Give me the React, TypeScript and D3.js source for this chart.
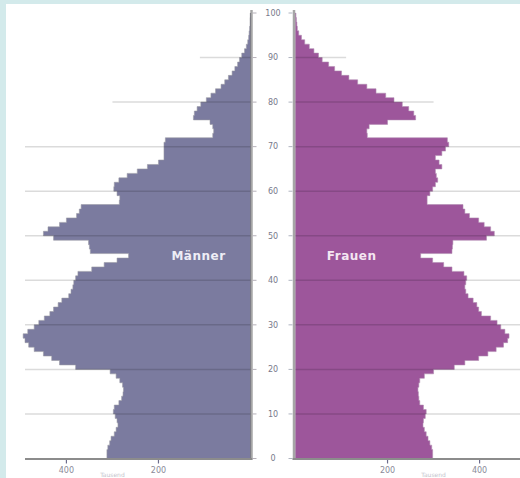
import React from "react";
import * as d3 from "d3";

const W = 520;
const H = 478;

// Population by single year of age (0..99)
const ageTicks = [0, 10, 20, 30, 40, 50, 60, 70, 80, 90, 100];
const valueTicks = [200, 400];
const men = [
  312, 312, 310, 306, 303, 296, 292, 288, 290, 294,
  298, 296, 286, 280, 277, 276, 278, 284, 292, 305,
  380, 415, 432, 450, 470, 482, 490, 494, 484, 470,
  460, 448, 436, 428, 418, 410, 395, 390, 386, 384,
  380, 375, 345, 318, 290, 265, 348, 350, 352, 428,
  450, 440, 415, 400, 378, 372, 368, 285, 284, 290,
  297, 296, 286, 268, 246, 224, 200, 188, 188, 188,
  188, 185, 82, 80, 82, 88, 124, 122, 116, 108,
  96, 86, 76, 64, 56, 48, 40, 34, 28, 24,
  19, 13, 9, 6, 4, 3, 2, 1, 1, 0.5,
];
const women = [
  298, 298, 296, 292, 288, 284, 280, 277, 278, 282,
  284, 278, 270, 268, 267, 266, 268, 270, 280, 300,
  345, 368, 398, 418, 436, 452, 461, 464, 455, 446,
  438, 424, 404, 398, 394, 386, 375, 370, 368, 370,
  372, 366, 340, 322, 298, 272, 340, 341, 342, 415,
  432, 424, 410, 398, 378, 368, 364, 286, 286, 292,
  298, 304, 309, 306, 304, 318, 312, 304, 318, 326,
  333, 330, 156, 155, 160, 200, 261, 257, 246, 232,
  214, 196, 175, 155, 135, 116, 100, 85, 72, 58,
  50, 40, 30, 20, 13, 7, 4, 3, 2, 1,
];
// extent of each decade gridline (in value units), ages 10..100
const gridAges = [10, 20, 30, 40, 50, 60, 70, 80, 90, 100];
const gridLen = [490, 490, 490, 490, 490, 490, 490, 300, 110, 0];

const MEN_COLOR = "#7b7b9f";
const WOMEN_COLOR = "#9d569b";

function pyramidPath(values: number[], x: d3.ScaleLinear<number, number>, y: d3.ScaleLinear<number, number>) {
  const p = d3.path();
  p.moveTo(x(0), y(0));
  values.forEach((v, i) => {
    p.lineTo(x(v), y(i));
    p.lineTo(x(v), y(i + 1));
  });
  p.lineTo(x(0), y(values.length));
  p.closePath();
  return p.toString();
}

export default function App() {
  const y = d3.scaleLinear().domain([0, 100]).range([458.5, 13]);
  const xL = d3.scaleLinear().domain([0, 490]).range([250.5, 25]);
  const xR = d3.scaleLinear().domain([0, 490]).range([295.5, 521]);
  const axisColor = "#8c8c8c";
  const font = "'DejaVu Sans', Verdana, sans-serif";

  return (
    <div style={{ position: "fixed", left: 0, top: 0, width: W, height: H }}>
      <svg width={W} height={H} style={{ display: "block" }}>
        <rect x={0} y={0} width={W} height={H} fill="#d3eaeb" />
        <rect x={6} y={4} width={W - 6} height={H - 4} fill="#ffffff" />

        {/* bars */}
        <path d={pyramidPath(men, xL, y)} fill={MEN_COLOR} stroke="#9a9aa4" strokeWidth={0.7} strokeOpacity={0.8} />
        <path d={pyramidPath(women, xR, y)} fill={WOMEN_COLOR} stroke="#b08ab0" strokeWidth={0.7} strokeOpacity={0.8} />

        {/* gridlines */}
        {gridAges.map((a, i) =>
          gridLen[i] > 0 ? (
            <g key={"g" + a}>
              <line x1={xL(0)} x2={xL(gridLen[i])} y1={y(a)} y2={y(a)} stroke="#000" strokeOpacity={0.14} strokeWidth={1.5} />
              <line x1={xR(0)} x2={xR(gridLen[i])} y1={y(a)} y2={y(a)} stroke="#000" strokeOpacity={0.14} strokeWidth={1.5} />
            </g>
          ) : null
        )}

        {/* vertical axis lines */}
        <line x1={xL(0) + 1} x2={xL(0) + 1} y1={y(100) - 3} y2={y(0) + 1} stroke="#000" strokeOpacity={0.35} strokeWidth={2.5} />
        <line x1={xR(0) - 1.5} x2={xR(0) - 1.5} y1={y(100) - 3} y2={y(0) + 1} stroke="#000" strokeOpacity={0.35} strokeWidth={2.5} />

        {/* bottom axis lines */}
        <line x1={xL(490)} x2={xL(0) + 2} y1={y(0) + 0.5} y2={y(0) + 0.5} stroke={axisColor} strokeWidth={2} />
        <line x1={xR(0) - 3} x2={W} y1={y(0) + 0.5} y2={y(0) + 0.5} stroke={axisColor} strokeWidth={2} />

        {/* age ticks & labels */}
        {ageTicks.map((a) => (
          <g key={"a" + a}>
            <line x1={xL(0) + 2} x2={xL(0) + 6} y1={y(a)} y2={y(a)} stroke="#b5b0b8" strokeWidth={1} />
            <line x1={xR(0) - 7} x2={xR(0) - 3} y1={y(a)} y2={y(a)} stroke="#b0b4c0" strokeWidth={1} />
            <text x={(xL(0) + xR(0)) / 2} y={y(a)} dy="0.35em" textAnchor="middle" fontSize={8} fontFamily={font} fill="#77788a">
              {a}
            </text>
          </g>
        ))}

        {/* value ticks & labels */}
        {valueTicks.map((v) => (
          <g key={"v" + v}>
            <line x1={xL(v)} x2={xL(v)} y1={y(0) + 1.5} y2={y(0) + 5} stroke="#6c6c8c" strokeWidth={1.2} />
            <text x={xL(v)} y={y(0) + 14} textAnchor="middle" fontSize={8} fontFamily={font} fill="#8a8a98">
              {v}
            </text>
            <line x1={xR(v)} x2={xR(v)} y1={y(0) + 1.5} y2={y(0) + 5} stroke="#6c6c8c" strokeWidth={1.2} />
            <text x={xR(v)} y={y(0) + 14} textAnchor="middle" fontSize={8} fontFamily={font} fill="#8a8a98">
              {v}
            </text>
          </g>
        ))}

        {/* axis titles */}
        <text x={xL(300)} y={H - 1} textAnchor="middle" fontSize={6} fontFamily={font} fill="#c4c4cc">Tausend</text>
        <text x={xR(300)} y={H - 1} textAnchor="middle" fontSize={6} fontFamily={font} fill="#c4c4cc">Tausend</text>

        {/* series labels */}
        <text x={xL(113)} y={y(45.5)} dy="0.35em" textAnchor="middle" fontSize={12} fontWeight="bold" letterSpacing={0.5} fontFamily={font} fill="#eeeef6">
          Männer
        </text>
        <text x={xR(122)} y={y(45.5)} dy="0.35em" textAnchor="middle" fontSize={12} fontWeight="bold" letterSpacing={0.5} fontFamily={font} fill="#f4e6f2">
          Frauen
        </text>
      </svg>
    </div>
  );
}
